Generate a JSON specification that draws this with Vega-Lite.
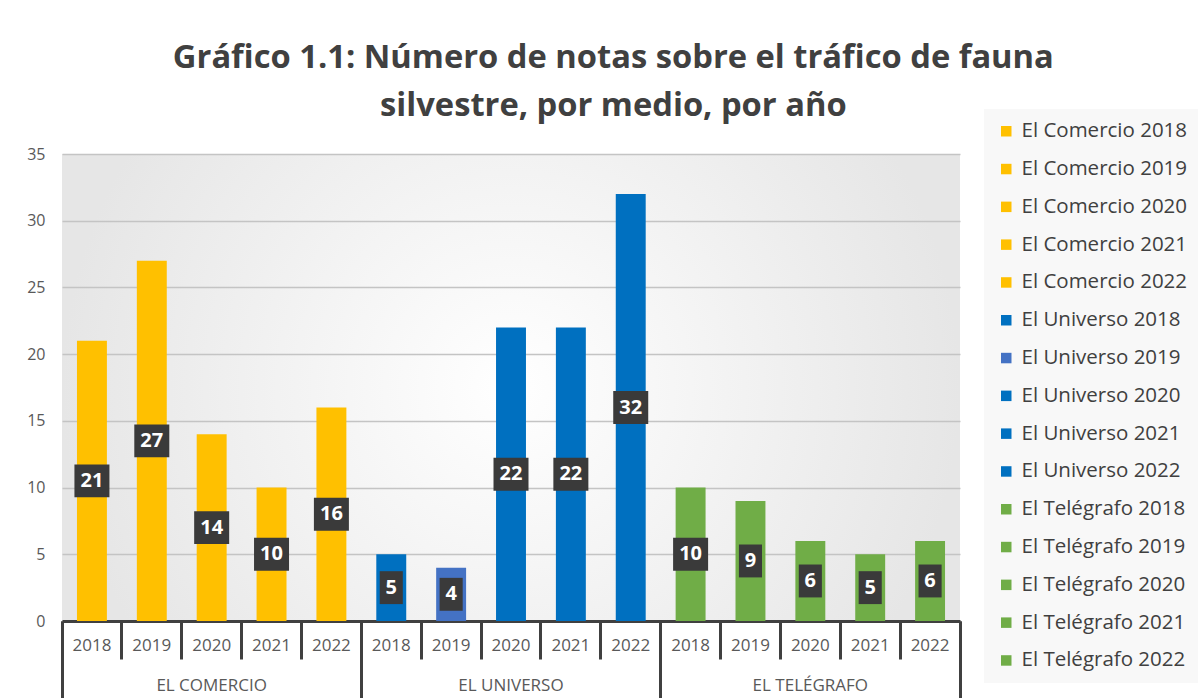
{
  "$schema": "https://vega.github.io/schema/vega-lite/v6.json",
  "width": 898,
  "height": 467,
  "padding": {"left": 26, "top": 42, "right": 0, "bottom": 0},
  "background": "white",
  "config": {
    "view": {"stroke": null, "fill": {"gradient": "radial", "stops": [{"offset": 0, "color": "#ffffff"}, {"offset": 1, "color": "#e6e6e6"}]}},
    "font": "Open Sans"
  },
  "title": {
    "text": ["Gráfico 1.1: Número de notas sobre el tráfico de fauna", "silvestre, por medio, por año"],
    "font": "Open Sans",
    "fontSize": 32.7,
    "fontWeight": "bold",
    "color": "#404040",
    "anchor": "middle",
    "frame": "bounds",
    "lineHeight": 48,
    "offset": -14
  },
  "data": {
    "values": [
      {"series": "El Comercio 2018", "group": "EL COMERCIO", "value": 21},
      {"series": "El Comercio 2019", "group": "EL COMERCIO", "value": 27},
      {"series": "El Comercio 2020", "group": "EL COMERCIO", "value": 14},
      {"series": "El Comercio 2021", "group": "EL COMERCIO", "value": 10},
      {"series": "El Comercio 2022", "group": "EL COMERCIO", "value": 16},
      {"series": "El Universo 2018", "group": "EL UNIVERSO", "value": 5},
      {"series": "El Universo 2019", "group": "EL UNIVERSO", "value": 4},
      {"series": "El Universo 2020", "group": "EL UNIVERSO", "value": 22},
      {"series": "El Universo 2021", "group": "EL UNIVERSO", "value": 22},
      {"series": "El Universo 2022", "group": "EL UNIVERSO", "value": 32},
      {"series": "El Telégrafo 2018", "group": "EL TELÉGRAFO", "value": 10},
      {"series": "El Telégrafo 2019", "group": "EL TELÉGRAFO", "value": 9},
      {"series": "El Telégrafo 2020", "group": "EL TELÉGRAFO", "value": 6},
      {"series": "El Telégrafo 2021", "group": "EL TELÉGRAFO", "value": 5},
      {"series": "El Telégrafo 2022", "group": "EL TELÉGRAFO", "value": 6}
    ]
  },
  "resolve": {"scale": {"x": "independent"}, "axis": {"x": "independent"}},
  "layer": [
    {
      "resolve": {"scale": {"y": "independent"}, "axis": {"y": "independent"}},
      "layer": [
        {
          "mark": {"type": "bar", "width": {"band": 0.5}},
          "encoding": {
            "x": {
              "field": "series", "type": "nominal", "sort": null,
              "scale": {"padding": 0},
              "axis": {
                "orient": "bottom", "title": null,
                "labelExpr": "substring(datum.label, length(datum.label) - 4)",
                "labelAngle": 0, "labelFontSize": 17, "labelColor": "#595959", "labelFont": "Open Sans",
                "labelOverlap": false,
                "domain": true, "domainColor": "#404040", "domainWidth": 3,
                "ticks": true, "tickColor": "#404040", "tickWidth": 3, "tickSize": 38,
                "bandPosition": 1, "tickExtra": true,
                "labelPadding": -22
              }
            },
            "y": {
              "field": "value", "type": "quantitative",
              "scale": {"domain": [0, 35], "nice": false},
              "axis": {
                "title": null, "values": [0, 5, 10, 15, 20, 25, 30, 35],
                "grid": true, "gridColor": "#c4c4c4", "gridWidth": 1.5,
                "domain": false, "ticks": false,
                "labelFontSize": 16, "labelColor": "#595959", "labelPadding": 17, "labelFont": "Open Sans"
              }
            },
            "color": {
              "field": "series", "type": "nominal", "sort": null,
              "scale": {
                "domain": ["El Comercio 2018", "El Comercio 2019", "El Comercio 2020", "El Comercio 2021", "El Comercio 2022", "El Universo 2018", "El Universo 2019", "El Universo 2020", "El Universo 2021", "El Universo 2022", "El Telégrafo 2018", "El Telégrafo 2019", "El Telégrafo 2020", "El Telégrafo 2021", "El Telégrafo 2022"],
                "range": ["#FFC000", "#FFC000", "#FFC000", "#FFC000", "#FFC000", "#0070C0", "#4472C4", "#0070C0", "#0070C0", "#0070C0", "#70AD47", "#70AD47", "#70AD47", "#70AD47", "#70AD47"]
              },
              "legend": {
                "title": null, "orient": "none", "direction": "vertical",
                "legendX": 922, "legendY": -45,
                "fillColor": "#f8f8f8", "padding": 12,
                "symbolType": "square", "symbolSize": 110, "symbolStrokeWidth": 0,
                "labelFontSize": 20.5, "labelColor": "#404040", "labelFont": "Open Sans",
                "labelLimit": 400, "rowPadding": 16.8, "labelOffset": 5
              }
            }
          }
        },
        {
          "layer": [
            {
              "mark": {"type": "point", "filled": true, "color": "#3a3a3a", "opacity": 1, "size": 1225},
              "encoding": {
                "x": {"field": "series", "type": "nominal", "sort": null, "scale": {"padding": 0}},
                "y": {"field": "value", "type": "quantitative", "scale": {"domain": [0, 70], "nice": false}, "axis": null},
                "shape": {
                  "condition": {"test": "datum.value >= 10", "value": "M-1,-0.94L1,-0.94L1,0.94L-1,0.94Z"},
                  "value": "M-0.66,-0.94L0.66,-0.94L0.66,0.94L-0.66,0.94Z"
                }
              }
            },
            {
              "mark": {"type": "text", "color": "white", "fontWeight": "bold", "fontSize": 20, "font": "Open Sans", "baseline": "middle", "align": "center"},
              "encoding": {
                "x": {"field": "series", "type": "nominal", "sort": null, "scale": {"padding": 0}},
                "y": {"field": "value", "type": "quantitative", "scale": {"domain": [0, 70], "nice": false}, "axis": null},
                "text": {"field": "value", "type": "quantitative"}
              }
            }
          ]
        }
      ]
    },
    {
      "mark": {"type": "rule", "opacity": 0},
      "encoding": {
        "x": {
          "field": "group", "type": "nominal", "sort": null,
          "scale": {"padding": 0},
          "axis": {
            "orient": "bottom", "title": null, "labelAngle": 0,
            "labelFontSize": 17, "labelColor": "#595959", "labelFont": "Open Sans",
            "domain": false, "ticks": true, "tickColor": "#404040", "tickWidth": 3, "tickSize": 78,
            "bandPosition": 1, "tickExtra": true, "labelPadding": -22
          }
        }
      }
    }
  ]
}
